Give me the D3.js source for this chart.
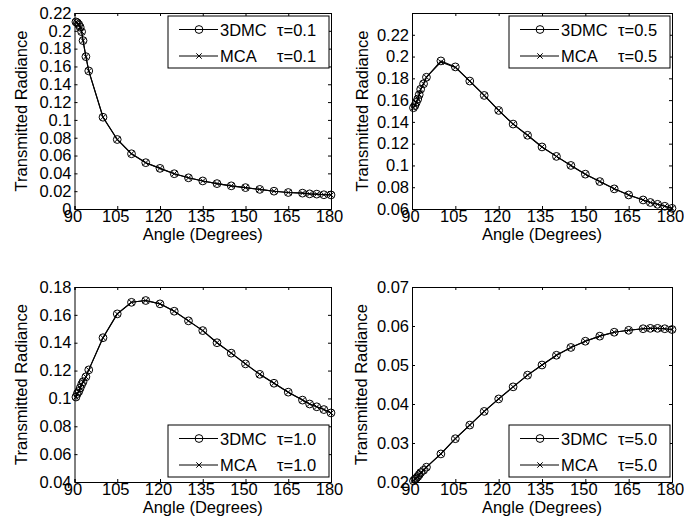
<!DOCTYPE html>
<html><head><meta charset="utf-8">
<script src="https://cdn.jsdelivr.net/npm/d3@7"></script>
<style>body{margin:0;background:#fff}svg{display:block}text{font-family:"Liberation Sans",Arial,sans-serif;fill:#000}</style>
</head><body><svg id="c" width="684" height="529"></svg>
<script>
// ---------- data ----------
const angles = [90.5,91,91.5,92,92.5,93,94,95,100,105,110,115,120,125,130,135,140,145,150,155,160,165,170,172.5,175,177.5,180];
const xTicks = [90,105,120,135,150,165,180];

const tau01_3dmc = [0.210,0.209,0.207,0.204,0.199,0.189,0.171,0.155,0.103,0.078,0.062,0.052,0.0456,0.0396,0.035,0.0315,0.0285,0.026,0.024,0.022,0.020,0.0185,0.0178,0.017,0.0167,0.016,0.0158];
const tau01_mca  = [0.210,0.209,0.207,0.204,0.199,0.189,0.171,0.155,0.103,0.078,0.062,0.052,0.0456,0.0396,0.035,0.0315,0.0285,0.026,0.024,0.022,0.020,0.0185,0.0178,0.017,0.0167,0.016,0.0158];
const tau05_3dmc = [0.153,0.155,0.158,0.161,0.165,0.170,0.175,0.181,0.196,0.1905,0.1775,0.1643,0.1505,0.138,0.1277,0.117,0.1083,0.100,0.092,0.0852,0.0785,0.0729,0.0683,0.066,0.0643,0.0625,0.0606];
const tau05_mca  = [0.153,0.155,0.158,0.161,0.165,0.170,0.175,0.181,0.195,0.1900,0.1775,0.1643,0.1505,0.138,0.1277,0.117,0.1083,0.100,0.092,0.0852,0.0785,0.0729,0.0683,0.066,0.0643,0.0625,0.0606];
const tau10_3dmc = [0.101,0.1035,0.105,0.1075,0.110,0.112,0.1155,0.1205,0.1436,0.1607,0.169,0.1703,0.1679,0.1626,0.1557,0.1487,0.140,0.1325,0.1248,0.1173,0.1109,0.1045,0.0988,0.096,0.094,0.092,0.0896];
const tau10_mca  = [0.101,0.1035,0.105,0.1075,0.110,0.112,0.1155,0.1205,0.1436,0.1607,0.169,0.1703,0.1679,0.1626,0.1557,0.1487,0.140,0.1325,0.1248,0.1173,0.1109,0.1045,0.0988,0.096,0.094,0.092,0.0896];
const tau50_3dmc = [0.0203,0.0207,0.0210,0.0214,0.0219,0.0224,0.0230,0.0238,0.0272,0.0311,0.0346,0.0381,0.0413,0.0444,0.0474,0.050,0.0525,0.0545,0.0561,0.0574,0.0584,0.0589,0.0593,0.0594,0.0594,0.0593,0.0591];
const tau50_mca  = [0.0203,0.0207,0.0210,0.0214,0.0219,0.0224,0.0230,0.0238,0.0272,0.0311,0.0346,0.0381,0.0413,0.0444,0.0474,0.050,0.0525,0.0545,0.0561,0.0574,0.0584,0.0589,0.0593,0.0594,0.0594,0.0593,0.0591];

const yTicks01 = [0,0.02,0.04,0.06,0.08,0.1,0.12,0.14,0.16,0.18,0.2,0.22];
const yTicks05 = [0.06,0.08,0.1,0.12,0.14,0.16,0.18,0.2,0.22];
const yTicks10 = [0.04,0.06,0.08,0.1,0.12,0.14,0.16,0.18];
const yTicks50 = [0.02,0.03,0.04,0.05,0.06,0.07];
const tauLabels = ["0.1","0.5","1.0","5.0"];

// ---------- layout ----------
const panels = [
  {x0:74.5,x1:331,y0:13,y1:209,dom:[0,0.22],ticks:yTicks01,a:tau01_3dmc,b:tau01_mca,tau:tauLabels[0],leg:"ne",ylx:21},
  {x0:412,x1:672,y0:13,y1:209,dom:[0.06,0.24],ticks:yTicks05,a:tau05_3dmc,b:tau05_mca,tau:tauLabels[1],leg:"ne",ylx:362},
  {x0:74.5,x1:331,y0:287,y1:482,dom:[0.04,0.18],ticks:yTicks10,a:tau10_3dmc,b:tau10_mca,tau:tauLabels[2],leg:"se",ylx:21},
  {x0:412,x1:672,y0:287,y1:482,dom:[0.02,0.07],ticks:yTicks50,a:tau50_3dmc,b:tau50_mca,tau:tauLabels[3],leg:"se",ylx:361}
];
const FS = 16.5, TL = 3;
const svg = d3.select("#c");
const fmt = d => String(+d.toFixed(3));

function xMark(g, x, y, s){
  g.append("path").attr("d",`M${x-s},${y-s}L${x+s},${y+s}M${x-s},${y+s}L${x+s},${y-s}`)
   .attr("stroke","#000").attr("stroke-width",1).attr("fill","none");
}

panels.forEach(p => {
  const x = d3.scaleLinear().domain([90,180]).range([p.x0,p.x1]);
  const y = d3.scaleLinear().domain(p.dom).range([p.y1,p.y0]);
  const g = svg.append("g");

  // axes (inward ticks on all sides)
  const ab = g.append("g").attr("transform",`translate(0,${p.y1})`)
    .call(d3.axisBottom(x).tickValues(xTicks).tickSize(-TL).tickPadding(0).tickFormat(d3.format("d")));
  const at = g.append("g").attr("transform",`translate(0,${p.y0})`)
    .call(d3.axisTop(x).tickValues(xTicks).tickSize(-TL).tickFormat(""));
  const al = g.append("g").attr("transform",`translate(${p.x0},0)`)
    .call(d3.axisLeft(y).tickValues(p.ticks).tickSize(-TL).tickPadding(3).tickFormat(fmt));
  const ar = g.append("g").attr("transform",`translate(${p.x1},0)`)
    .call(d3.axisRight(y).tickValues(p.ticks).tickSize(-TL).tickFormat(""));
  [ab,at,al,ar].forEach(a=>{
    a.select(".domain").attr("stroke","#000").attr("stroke-width",1);
    a.selectAll(".tick line").attr("stroke","#000").attr("stroke-width",1);
    a.selectAll("text").attr("font-size",FS).style("font-family",'"Liberation Sans",Arial,sans-serif').attr("fill","#000");
  });
  ab.selectAll(".tick text").attr("y",0).attr("dy","0.8em").attr("dx",-2);

  // axis labels
  g.append("text").attr("x",(p.x0+p.x1)/2).attr("y",p.y1+31).attr("text-anchor","middle")
    .attr("font-size",FS).text("Angle (Degrees)");
  g.append("text").attr("transform",`translate(${p.ylx+6},${(p.y0+p.y1)/2}) rotate(-90)`)
    .attr("text-anchor","middle").attr("font-size",FS).text("Transmitted Radiance");

  // series
  const ptsA = angles.map((a,i)=>[a,p.a[i]]);
  const ptsB = angles.map((a,i)=>[a,p.b[i]]);
  const line = d3.line().x(d=>x(d[0])).y(d=>y(d[1]));
  g.append("path").attr("d",line(ptsB)).attr("fill","none").attr("stroke","#000").attr("stroke-width",1.1);
  g.append("path").attr("d",line(ptsA)).attr("fill","none").attr("stroke","#000").attr("stroke-width",1.1);
  ptsB.forEach(d=>xMark(g,x(d[0]),y(d[1]),2.7));
  ptsA.forEach(d=>g.append("circle").attr("cx",x(d[0])).attr("cy",y(d[1])).attr("r",3.9)
    .attr("fill","none").attr("stroke","#000").attr("stroke-width",1));

  // legend
  const LW = 161, LH = 52;
  const lx = p.x1 - 2 - LW;
  const ly = p.leg==="ne" ? p.y0 + 3 : p.y1 - 5 - LH;
  const lg = g.append("g").attr("transform",`translate(${lx},${ly})`);
  lg.append("rect").attr("x",0).attr("y",0).attr("width",LW).attr("height",LH)
    .attr("fill","#fff").attr("stroke","#000").attr("stroke-width",1);
  const rows = [{name:"3DMC",mk:"o",yy:13.5},{name:"MCA",mk:"x",yy:40}];
  rows.forEach(r=>{
    lg.append("line").attr("x1",11).attr("x2",50).attr("y1",r.yy).attr("y2",r.yy).attr("stroke","#000").attr("stroke-width",1);
    if(r.mk==="o") lg.append("circle").attr("cx",31).attr("cy",r.yy).attr("r",3.9).attr("fill","none").attr("stroke","#000").attr("stroke-width",1);
    else xMark(lg,31,r.yy,2.7);
    lg.append("text").attr("x",52).attr("y",r.yy+6.3).attr("font-size",FS).text(r.name);
    lg.append("text").attr("x",109).attr("y",r.yy+6.3).attr("font-size",FS).text("τ=" + p.tau);
  });
});
</script></body></html>
